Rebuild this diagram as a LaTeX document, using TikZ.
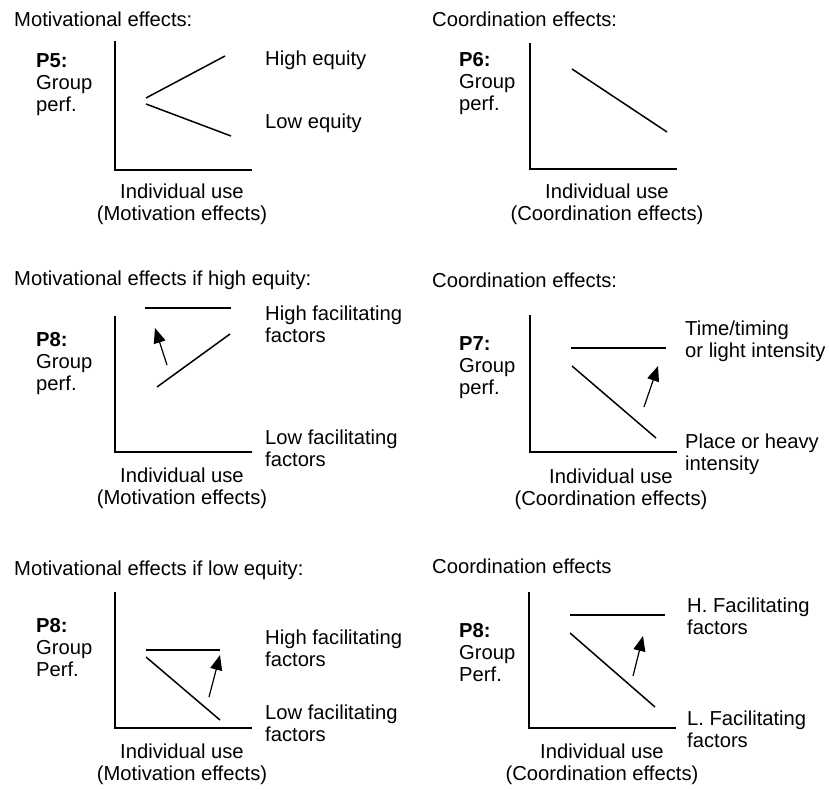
\documentclass[tikz,border=0pt]{standalone}
\usepackage{fontspec}
\setmainfont{Liberation Sans}
\usetikzlibrary{arrows.meta}
\begin{document}
\begin{tikzpicture}[x=1pt,y=-1pt,
  axis/.style={line width=1.2pt},
  curve/.style={line width=1.5pt},
  shiftarrow/.style={line width=1.2pt,-{Triangle[length=15pt,width=12pt]}},
  txt/.style={inner sep=0pt,font=\fontsize{20.2}{22}\selectfont},
  ttl/.style={txt,anchor=west},
  lbl/.style={txt,anchor=west,align=left},
  xcaption/.style={txt,align=center}]
\useasboundingbox (0,0) rectangle (829,789);

% ---------- Panel 1 ----------
\node[ttl] (t1) at (14,19) {Motivational effects:};
\coordinate (y1) at (115,41); \coordinate (x1) at (252,170);
\draw[axis] (y1) |- (x1);
\coordinate (a1) at (146,98); \coordinate (b1) at (225,56);
\coordinate (c1) at (146,104); \coordinate (d1) at (231,136);
\draw[curve] (a1) -- (b1);
\draw[curve] (c1) -- (d1);
\node[lbl] (h1) at (265,60) {High equity};
\node[lbl] (l1) at (265,123) {Low equity};
\node[lbl] (p1) at (36,85) {\textbf{P5:}\\Group\\perf.};
\node[xcaption] (c1t) at (182,204) {Individual use\\(Motivation effects)};

% ---------- Panel 2 ----------
\node[ttl] (t2) at (432,19) {Coordination effects:};
\coordinate (y2) at (530,43); \coordinate (x2) at (677,169);
\draw[axis] (y2) |- (x2);
\coordinate (a2) at (572,69); \coordinate (b2) at (667,132);
\draw[curve] (a2) -- (b2);
\node[lbl] (p2) at (459,84) {\textbf{P6:}\\Group\\perf.};
\node[xcaption] (c2t) at (607,204) {Individual use\\(Coordination effects)};

% ---------- Panel 3 ----------
\node[ttl] (t3) at (14,280) {Motivational effects if high equity:};
\coordinate (y3) at (115,316); \coordinate (x3) at (252,452);
\draw[axis] (y3) |- (x3);
\coordinate (a3) at (145,308); \coordinate (b3) at (231,308);
\coordinate (c3) at (157,387); \coordinate (d3) at (230,334);
\draw[curve] (a3) -- (b3);
\draw[curve] (c3) -- (d3);
\coordinate (s3) at (167,365); \coordinate (e3) at (155,328);
\draw[shiftarrow] (s3) -- (e3);
\node[lbl] (h3) at (265,324) {High facilitating\\factors};
\node[lbl] (l3) at (265,448) {Low facilitating\\factors};
\node[lbl] (p3) at (36,364) {\textbf{P8:}\\Group\\perf.};
\node[xcaption] (c3t) at (182,488) {Individual use\\(Motivation effects)};

% ---------- Panel 4 ----------
\node[ttl] (t4) at (432,280) {Coordination effects:};
\coordinate (y4) at (530,315); \coordinate (x4) at (677,452);
\draw[axis] (y4) |- (x4);
\coordinate (a4) at (571,348); \coordinate (b4) at (666,348);
\coordinate (c4) at (572,366); \coordinate (d4) at (656,438);
\draw[curve] (a4) -- (b4);
\draw[curve] (c4) -- (d4);
\coordinate (s4) at (644,407); \coordinate (e4) at (658,366);
\draw[shiftarrow] (s4) -- (e4);
\node[lbl] (h4) at (685,341) {Time/timing\\or light intensity};
\node[lbl] (l4) at (685,454) {Place or heavy\\intensity};
\node[lbl] (p4) at (459,368) {\textbf{P7:}\\Group\\perf.};
\node[xcaption] (c4t) at (611,489) {Individual use\\(Coordination effects)};

% ---------- Panel 5 ----------
\node[ttl] (t5) at (14,570) {Motivational effects if low equity:};
\coordinate (y5) at (115,592); \coordinate (x5) at (252,728);
\draw[axis] (y5) |- (x5);
\coordinate (a5) at (146,650); \coordinate (b5) at (220,650);
\coordinate (c5) at (146,657); \coordinate (d5) at (220,720);
\draw[curve] (a5) -- (b5);
\draw[curve] (c5) -- (d5);
\coordinate (s5) at (209,697); \coordinate (e5) at (220,655);
\draw[shiftarrow] (s5) -- (e5);
\node[lbl] (h5) at (265,648) {High facilitating\\factors};
\node[lbl] (l5) at (265,723) {Low facilitating\\factors};
\node[lbl] (p5) at (36,648) {\textbf{P8:}\\Group\\Perf.};
\node[xcaption] (c5t) at (182,764) {Individual use\\(Motivation effects)};

% ---------- Panel 6 ----------
\node[ttl] (t6) at (432,566) {Coordination effects};
\coordinate (y6) at (529,592); \coordinate (x6) at (676,728);
\draw[axis] (y6) |- (x6);
\coordinate (a6) at (570,615); \coordinate (b6) at (665,615);
\coordinate (c6) at (570,633); \coordinate (d6) at (655,707);
\draw[curve] (a6) -- (b6);
\draw[curve] (c6) -- (d6);
\coordinate (s6) at (633,676); \coordinate (e6) at (643,636);
\draw[shiftarrow] (s6) -- (e6);
\node[lbl] (h6) at (687,616) {H. Facilitating\\factors};
\node[lbl] (l6) at (687,729) {L. Facilitating\\factors};
\node[lbl] (p6) at (459,653) {\textbf{P8:}\\Group\\Perf.};
\node[xcaption] (c6t) at (602,764) {Individual use\\(Coordination effects)};
\end{tikzpicture}
\end{document}
